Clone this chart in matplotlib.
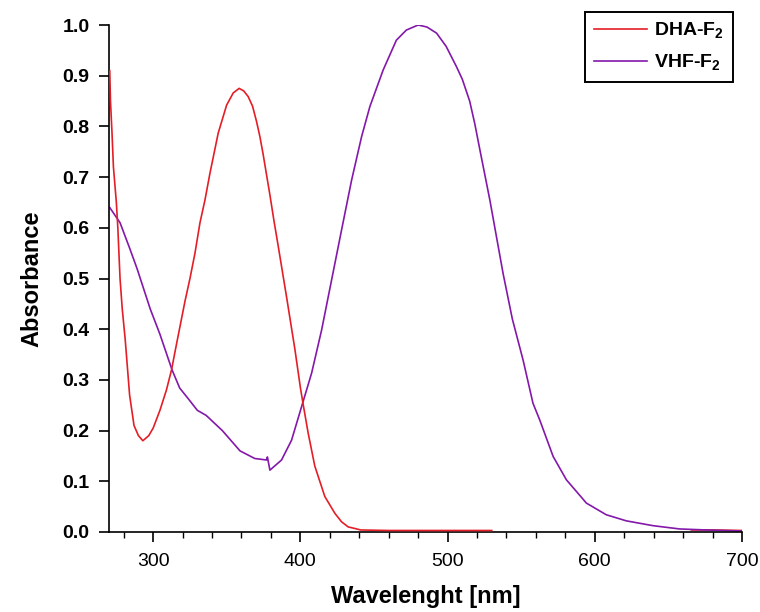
#!/usr/bin/env python
# coding: utf-8

"""
Absorbance spectra of DHA-F2 and VHF-F2
"""

import numpy as np
import matplotlib
import matplotlib.pyplot as plt

matplotlib.use('Agg')

# DHA-F2 (red) - wavelength [nm] and absorbance
dha_wl = [270.5, 271, 272, 273, 275, 276, 277.5, 279, 281, 284, 287, 290, 293,
          297, 300, 304.6, 309, 312.5, 314.8, 318.2, 321.6, 325, 328.4, 331.8,
          335.2, 338.6, 344.2, 349.9, 354.4, 358.4, 361.5, 364.5, 367.5, 370.2,
          372.5, 374.7, 377, 379.3, 382, 385, 390.6, 396.3, 400, 402, 405.3,
          409.8, 416.6, 423.4, 428, 432.5, 436.9, 441, 460, 500, 530]
dha_abs = [0.91, 0.85, 0.79, 0.72, 0.65, 0.60, 0.50, 0.44, 0.38, 0.27, 0.21,
           0.19, 0.18, 0.19, 0.205, 0.24, 0.28, 0.32, 0.355, 0.405, 0.455,
           0.50, 0.55, 0.61, 0.655, 0.708, 0.787, 0.842, 0.866, 0.875, 0.87,
           0.859, 0.84, 0.81, 0.78, 0.745, 0.705, 0.665, 0.615, 0.563, 0.464,
           0.36, 0.285, 0.25, 0.195, 0.13, 0.07, 0.037, 0.02, 0.01, 0.007,
           0.004, 0.003, 0.003, 0.003]
# short piece at the far red end
dha_tail_wl = [665.6, 680, 699.5]
dha_tail_abs = [0.004, 0.004, 0.003]

# VHF-F2 (purple)
vhf_wl = [270.5, 277.5, 284, 289, 298, 304.6, 312.8, 318, 323.8, 330, 336,
          347, 359, 369, 377, 377.6, 379.3, 387.2, 394, 400.8, 407.6, 414.4,
          421.2, 428, 434.8, 441.6, 447.2, 456.2, 465.2, 472, 480, 486, 492.5,
          499, 506, 510, 515, 518.5, 522, 528.7, 537.7, 544, 551.3, 558, 562.6,
          571.7, 580.7, 594.3, 607.8, 621.4, 639.5, 657.6, 675.7, 700]
vhf_abs = [0.64, 0.61, 0.56, 0.52, 0.44, 0.39, 0.32, 0.284, 0.263, 0.24, 0.23,
           0.20, 0.16, 0.145, 0.142, 0.148, 0.122, 0.142, 0.181, 0.247, 0.313,
           0.398, 0.497, 0.596, 0.694, 0.78, 0.839, 0.911, 0.97, 0.99, 1.0,
           0.996, 0.984, 0.958, 0.918, 0.893, 0.85, 0.805, 0.753, 0.655, 0.51,
           0.42, 0.339, 0.254, 0.221, 0.149, 0.103, 0.057, 0.034, 0.022,
           0.0125, 0.006, 0.004, 0.002]

xticks_major = [300, 400, 500, 600, 700]
yticks = [0.0, 0.1, 0.2, 0.3, 0.4, 0.5, 0.6, 0.7, 0.8, 0.9, 1.0]

font = ['Liberation Sans', 'DejaVu Sans']
plt.rcParams['font.family'] = font
plt.rcParams['mathtext.fontset'] = 'custom'
plt.rcParams['mathtext.rm'] = 'Liberation Sans'
plt.rcParams['mathtext.bf'] = 'Liberation Sans:bold'

red = '#e41e26'
purple = '#8418aa'

fig = plt.figure(figsize=(7.6, 6.12), dpi=100)
ax = fig.add_axes([109 / 760, 1 - 532 / 612, 633 / 760, 507 / 612])

ax.plot(vhf_wl, vhf_abs, color=purple, lw=1.2, label=r'VHF-F$_{\mathbf{2}}$', zorder=2)
ax.plot(dha_wl, dha_abs, color=red, lw=1.2, label=r'DHA-F$_{\mathbf{2}}$', zorder=3)
ax.plot(dha_tail_wl, dha_tail_abs, color=red, lw=1.2, zorder=1)

ax.set_xlim(270, 700)
ax.set_ylim(0, 1.0)
ax.set_xticks(xticks_major)
ax.set_xticks(np.arange(280, 701, 20), minor=True)
ax.set_yticks(yticks)
ax.set_yticklabels([f'{v:.1f}' for v in yticks], fontweight='bold')

ax.spines['top'].set_visible(False)
ax.spines['right'].set_visible(False)
for s in ('left', 'bottom'):
    ax.spines[s].set_linewidth(1.2)

ax.tick_params(axis='both', which='major', direction='out', length=7,
               width=1.2, labelsize=14)
ax.tick_params(axis='x', which='minor', direction='out', length=4, width=1.0)
ax.tick_params(axis='x', pad=8)
ax.tick_params(axis='y', pad=7)

# the reference crops this label at the bottom; keep it just inside the figure
ax.set_xlabel('Wavelenght [nm]', fontsize=17, fontweight='bold', labelpad=11)
ax.set_ylabel('Absorbance', fontsize=17, fontweight='bold', labelpad=14)

handles, labels = ax.get_legend_handles_labels()
leg = ax.legend(handles[::-1], labels[::-1], loc='upper right',
                bbox_to_anchor=(733 / 760, 1 - 12 / 612),
                bbox_transform=fig.transFigure, borderaxespad=0,
                fancybox=False, edgecolor='black', framealpha=1,
                handlelength=2.7, borderpad=0.45, labelspacing=0.6,
                handletextpad=0.4, prop={'weight': 'bold', 'size': 14})
leg.get_frame().set_linewidth(1.4)

fig.savefig('out.png', dpi=100)
plt.close(fig)
